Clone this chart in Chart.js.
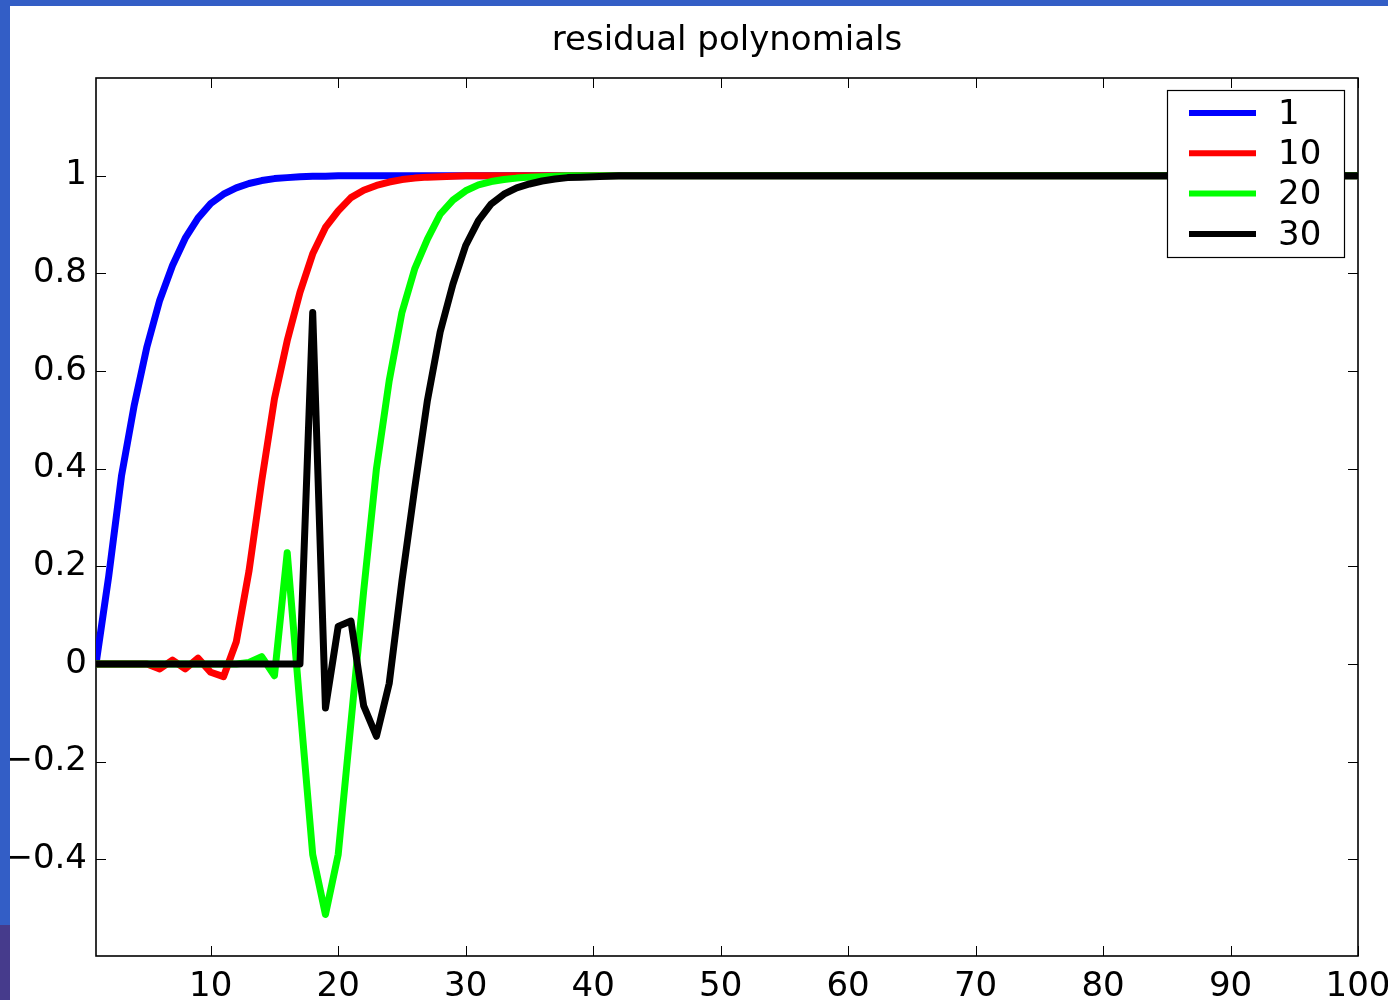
<!DOCTYPE html>
<html>
<head>
<meta charset="utf-8">
<title>residual polynomials</title>
<script src="https://cdn.jsdelivr.net/npm/chart.js@4.4.1/dist/chart.umd.min.js"></script>
<style>
html, body { margin:0; padding:0; background:#fff; overflow:hidden; width:1388px; height:1000px; }
#wrap { position:relative; width:1388px; height:1000px; overflow:hidden; }
#residual { position:absolute; left:0; top:0; }
.strip { position:absolute; }
</style>
</head>
<body>
<div id="wrap">
   <canvas id="residual" width="1408" height="1000"></canvas>
   <div class="strip" style="left:0;top:0;width:1388px;height:6px;background:#335ec6"></div>
   <div class="strip" style="left:0;top:0;width:10px;height:925px;background:#335ec6"></div>
   <div class="strip" style="left:0;top:925px;width:10px;height:75px;background:#463b8c"></div>
</div>
<script>

/* data */

const steps = [
   1,2,3,4,5,6,7,8,9,10,11,12,13,14,15,16,17,18,19,20,
   21,22,23,24,25,26,27,28,29,30,31,32,33,34,35,36,37,38,39,40,
   41,42,43,44,45,46,47,48,49,50,51,52,53,54,55,56,57,58,59,60,
   61,62,63,64,65,66,67,68,69,70,71,72,73,74,75,76,77,78,79,80,
   81,82,83,84,85,86,87,88,89,90,91,92,93,94,95,96,97,98,99,100
];

const seriesNames = ["1", "10", "20", "30"];
const seriesColors = ["#0000ff", "#ff0000", "#00ff00", "#000000"];

const residual1 = [
   0,0.18,0.385,0.53,0.65,0.745,0.816,0.872,0.913,0.943,
   0.962,0.975,0.984,0.99,0.994,0.996,0.998,0.999,0.999,1,
   1,1,1,1,1,1,1,1,1,1,
   1,1,1,1,1,1,1,1,1,1,
   1,1,1,1,1,1,1,1,1,1,
   1,1,1,1,1,1,1,1,1,1,
   1,1,1,1,1,1,1,1,1,1,
   1,1,1,1,1,1,1,1,1,1,
   1,1,1,1,1,1,1,1,1,1,
   1,1,1,1,1,1,1,1,1,1
];

const residual10 = [
   0,0,0,0,0,-0.01,0.008,-0.01,0.012,-0.017,
   -0.026,0.045,0.19,0.375,0.543,0.662,0.761,0.84,0.894,0.928,
   0.955,0.97,0.98,0.987,0.992,0.995,0.997,0.998,0.999,1,
   1,1,1,1,1,1,1,1,1,1,
   1,1,1,1,1,1,1,1,1,1,
   1,1,1,1,1,1,1,1,1,1,
   1,1,1,1,1,1,1,1,1,1,
   1,1,1,1,1,1,1,1,1,1,
   1,1,1,1,1,1,1,1,1,1,
   1,1,1,1,1,1,1,1,1,1
];

const residual20 = [
   0,0,0,0,0,0,0,0,0,0,
   0,0,0.003,0.015,-0.024,0.228,-0.085,-0.39,-0.513,-0.39,
   -0.12,0.15,0.4,0.58,0.72,0.809,0.87,0.921,0.95,0.969,
   0.981,0.988,0.992,0.995,0.997,0.998,0.999,1,1,1,
   1,1,1,1,1,1,1,1,1,1,
   1,1,1,1,1,1,1,1,1,1,
   1,1,1,1,1,1,1,1,1,1,
   1,1,1,1,1,1,1,1,1,1,
   1,1,1,1,1,1,1,1,1,1,
   1,1,1,1,1,1,1,1,1,1
];

const residual30 = [
   0,0,0,0,0,0,0,0,0,0,
   0,0,0,0,0,0,0,0.72,-0.09,0.077,
   0.088,-0.086,-0.148,-0.04,0.17,0.36,0.54,0.68,0.778,0.857,
   0.908,0.942,0.962,0.975,0.983,0.989,0.993,0.996,0.997,0.998,
   0.999,1,1,1,1,1,1,1,1,1,
   1,1,1,1,1,1,1,1,1,1,
   1,1,1,1,1,1,1,1,1,1,
   1,1,1,1,1,1,1,1,1,1,
   1,1,1,1,1,1,1,1,1,1,
   1,1,1,1,1,1,1,1,1,1
];

const xTicks = [10, 20, 30, 40, 50, 60, 70, 80, 90, 100];
const yTicks = [-0.4, -0.2, 0, 0.2, 0.4, 0.6, 0.8, 1];
const yTickLabels = ["\u22120.4", "\u22120.2", "0", "0.2", "0.4", "0.6", "0.8", "1"];

const chartTitle = "residual polynomials";

const FONT = "'DejaVu Sans', 'Liberation Sans', Arial, sans-serif";


/* frame + ticks pointing inward, like matlab */

const frameTicks = {

   id: "frameTicks",

   beforeDatasetsDraw(chart){

      let ctx = chart.ctx;
      let a = chart.chartArea;
      let xs = chart.scales.x;
      let ys = chart.scales.y;
      let len = 10;

      ctx.save();
      ctx.strokeStyle = "#000";
      ctx.lineWidth = 1;
      ctx.beginPath();

      xs.ticks.forEach(t => {
         let px = Math.round(xs.getPixelForValue(t.value)) + 0.5;
         ctx.moveTo(px, a.bottom); ctx.lineTo(px, a.bottom - len);
         ctx.moveTo(px, a.top);    ctx.lineTo(px, a.top + len);
      });

      ys.ticks.forEach(t => {
         let py = Math.round(ys.getPixelForValue(t.value)) + 0.5;
         ctx.moveTo(a.left, py);  ctx.lineTo(a.left + len, py);
         ctx.moveTo(a.right, py); ctx.lineTo(a.right - len, py);
      });

      ctx.stroke();

      ctx.lineWidth = 1.6;
      ctx.strokeRect(a.left, a.top, a.right - a.left, a.bottom - a.top);
      ctx.restore();

   }

};


/* title centred over the plot box */

const plotTitle = {

   id: "plotTitle",

   afterDraw(chart){

      let ctx = chart.ctx;
      let a = chart.chartArea;

      ctx.save();
      ctx.fillStyle = "#000";
      ctx.font = "34px " + FONT;
      ctx.textAlign = "center";
      ctx.textBaseline = "alphabetic";
      ctx.fillText(chartTitle, (a.left + a.right) / 2, 50);
      ctx.restore();

   }

};


/* boxed legend in the upper right corner */

const boxLegend = {

   id: "boxLegend",

   afterDatasetsDraw(chart){

      let ctx = chart.ctx;
      let a = chart.chartArea;
      let w = 177, h = 167;
      let left = a.right - 14 - w;
      let top = a.top + 12;

      ctx.save();
      ctx.fillStyle = "#fff";
      ctx.fillRect(left, top, w, h);
      ctx.strokeStyle = "#000";
      ctx.lineWidth = 1.2;
      ctx.strokeRect(left + 0.5, top + 0.5, w, h);

      ctx.font = "34px " + FONT;
      ctx.textAlign = "left";
      ctx.textBaseline = "middle";

      chart.data.datasets.forEach((ds, i) => {
         let yy = top + 23 + i * 40.3;
         ctx.strokeStyle = ds.borderColor;
         ctx.lineWidth = 6;
         ctx.beginPath();
         ctx.moveTo(left + 22, yy);
         ctx.lineTo(left + 89, yy);
         ctx.stroke();
         ctx.fillStyle = "#000";
         ctx.fillText(ds.label, left + 111, yy + 2);
      });

      ctx.restore();

   }

};


let residualSeries = [residual1, residual10, residual20, residual30];

let datasets = residualSeries.map((vals, i) => ({

   label: seriesNames[i],
   data: vals.map((v, k) => ({ x: steps[k], y: v })),
   borderColor: seriesColors[i],
   backgroundColor: seriesColors[i],
   borderWidth: 7,
   borderJoinStyle: "round",
   borderCapStyle: "round",
   pointRadius: 0,
   tension: 0,
   fill: false,
   /* later series on top, like matlab plot order */
   order: residualSeries.length - i

}));


let ctx = document.getElementById("residual").getContext("2d");

new Chart(ctx, {

   type: "line",

   data: { datasets: datasets },

   options: {

      responsive: false,
      animation: false,
      devicePixelRatio: 1,

      layout: {
         padding: { left: 0, right: 50, top: 78, bottom: 0 }
      },

      plugins: {
         legend: { display: false },
         title: { display: false },
         tooltip: { enabled: false }
      },

      scales: {

         x: {
            type: "linear",
            min: 1,
            max: 100,
            grid: { display: false, drawTicks: false },
            border: { display: false },
            afterBuildTicks: function(scale){
               scale.ticks = xTicks.map(v => ({ value: v }));
            },
            afterFit: function(scale){
               scale.height = 44;
            },
            ticks: {
               color: "#000",
               padding: 11,
               maxRotation: 0,
               autoSkip: false,
               font: { family: FONT, size: 34 },
               callback: function(value){
                  return String(value);
               }
            }
         },

         y: {
            type: "linear",
            min: -0.598,
            max: 1.2,
            grid: { display: false, drawTicks: false },
            border: { display: false },
            afterBuildTicks: function(scale){
               scale.ticks = yTicks.map(v => ({ value: v }));
            },
            afterFit: function(scale){
               scale.width = 96;
            },
            ticks: {
               color: "#000",
               padding: 9,
               autoSkip: false,
               font: { family: FONT, size: 34 },
               callback: function(value, index){
                  return yTickLabels[index];
               }
            }
         }

      }

   },

   plugins: [frameTicks, boxLegend, plotTitle]

});

</script>
</body>
</html>
